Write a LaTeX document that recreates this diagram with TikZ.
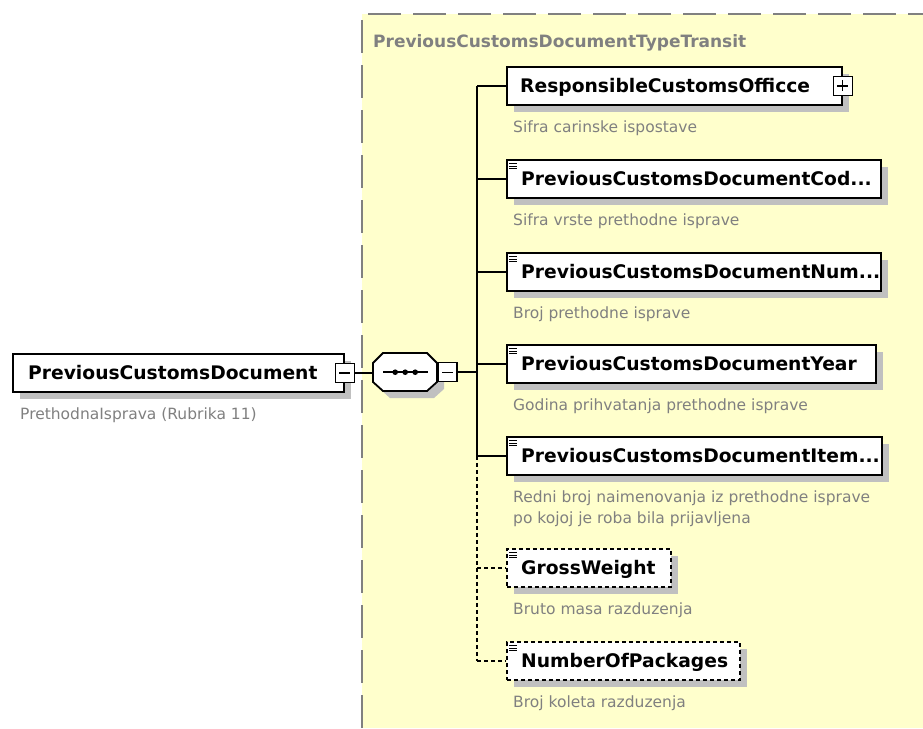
\documentclass[tikz,border=0pt]{standalone}
\usepackage{fontspec}
\setmainfont{DejaVu Sans}
\usetikzlibrary{calc,shadows}
\definecolor{bgyellow}{RGB}{255,255,204}
\definecolor{shadowgray}{RGB}{192,192,192}
\definecolor{desccol}{RGB}{128,128,128}
\definecolor{bordergray}{RGB}{128,128,128}
\newcommand\elemfont{\fontsize{18.7}{22}\selectfont\bfseries}
\newcommand\titlefont{\fontsize{17}{20}\selectfont\bfseries}
\newcommand\descfont{\fontsize{15.5}{19}\selectfont}
\tikzset{
  elem/.style={draw=black, line width=1.8pt, fill=white, inner sep=0pt,
    anchor=north west, minimum height=38pt,
    drop shadow={shadow xshift=7pt, shadow yshift=-7pt, fill=shadowgray, opacity=1}},
  optelem/.style={elem, dash pattern=on 4pt off 3pt},
  elemtext/.style={anchor=base west, inner sep=0pt, font=\elemfont, text=black},
  desc/.style={anchor=base west, inner sep=0pt, font=\descfont, text=desccol},
  conn/.style={line width=1.8pt, draw=black},
  optconn/.style={conn, dash pattern=on 4pt off 3pt},
  minusbox/.style={draw=black, line width=1.5pt, fill=white, minimum width=19pt,
    minimum height=19pt, inner sep=0pt,
    path picture={\draw[line width=1.3pt] ($(path picture bounding box.west)+(4,0)$) -- ($(path picture bounding box.east)+(-4,0)$);}},
  plusbox/.style={minusbox,
    path picture={\draw[line width=1.3pt] ($(path picture bounding box.west)+(4,0)$) -- ($(path picture bounding box.east)+(-4,0)$)
      ($(path picture bounding box.north)+(0,4)$) -- ($(path picture bounding box.south)+(0,-4)$);}},
  icon/.style={line width=1pt, draw=black}
}
\newcommand\simpleicon[1]{%
  \draw[icon] ($(#1.north west)+(3,4.5)$) -- ++(7.5,0)
              ($(#1.north west)+(3,7)$) -- ++(7.5,0)
              ($(#1.north west)+(3,9.5)$) -- ++(7.5,0);}
\begin{document}
\begin{tikzpicture}[x=1pt,y=-1pt]
\useasboundingbox (0,0) rectangle (923,728);
\fill[white] (0,0) rectangle (923,728);
% type area
\fill[bgyellow] (362,14) rectangle (923,728);
\draw[bordergray, line width=2pt, dash pattern=on 33pt off 12pt] (362,728) -- (362,14) -- (923,14);
\node[anchor=base west, inner sep=0pt, font=\titlefont, text=bordergray] (title) at (373,47) {PreviousCustomsDocumentTypeTransit};

% main element
\node[elem, minimum width=331pt] (main) at (12,353) {};
\node[elemtext] (maint) at ($(main.west)+(16,6.5)$) {PreviousCustomsDocument};
\node[desc] (maind) at ($(main.south west)+(8,27)$) {PrethodnaIsprava (Rubrika 11)};
\node[minusbox] (mm) at (main.east) {};

% sequence compositor
\node[inner sep=0pt, minimum width=64pt, minimum height=38pt, anchor=north west] (seq) at (373,353) {};
\begin{scope}[xshift=7pt, yshift=-7pt]
\fill[shadowgray] (383,353) -- (427,353) -- (437,363) -- (437,382) -- (427,391) -- (383,391) -- (373,382) -- (373,363) -- cycle;
\end{scope}
\filldraw[fill=white, draw=black, line width=1.8pt] (383,353) -- (427,353) -- (437,363) -- (437,382) -- (427,391) -- (383,391) -- (373,382) -- (373,363) -- cycle;
\draw[line width=1.8pt] ($(seq.center)+(-22,0)$) -- ($(seq.center)+(23,0)$);
\foreach \dx in {-10,0,10} \fill ($(seq.center)+(\dx,0)$) circle (2.8pt);
\node[minusbox, anchor=west] (sm) at (seq.east) {};
\draw[conn] (mm.east) -- (mm.east -| seq.west);

% children
\node[elem, minimum width=335pt] (b1) at (506,66) {};
\node[plusbox] (p1) at (b1.east) {};
\node[elemtext] (t1) at ($(b1.west)+(14,6.5)$) {ResponsibleCustomsOfficce};
\node[desc] (d1) at ($(b1.south west)+(7,27)$) {Sifra carinske ispostave};

\node[elem, minimum width=374pt] (b2) at (506,159) {};
\simpleicon{b2}
\node[elemtext] (t2) at ($(b2.west)+(15,6.5)$) {PreviousCustomsDocumentCod...};
\node[desc] (d2) at ($(b2.south west)+(7,27)$) {Sifra vrste prethodne isprave};

\node[elem, minimum width=374pt] (b3) at (506,252) {};
\simpleicon{b3}
\node[elemtext] (t3) at ($(b3.west)+(15,6.5)$) {PreviousCustomsDocumentNum...};
\node[desc] (d3) at ($(b3.south west)+(7,27)$) {Broj prethodne isprave};

\node[elem, minimum width=369pt] (b4) at (506,344) {};
\simpleicon{b4}
\node[elemtext] (t4) at ($(b4.west)+(15,6.5)$) {PreviousCustomsDocumentYear};
\node[desc] (d4) at ($(b4.south west)+(7,27)$) {Godina prihvatanja prethodne isprave};

\node[elem, minimum width=375pt] (b5) at (506,436) {};
\simpleicon{b5}
\node[elemtext] (t5) at ($(b5.west)+(15,6.5)$) {PreviousCustomsDocumentItem...};
\node[desc] (d5) at ($(b5.south west)+(7,27)$) {Redni broj naimenovanja iz prethodne isprave};
\node[desc] (d5b) at ($(b5.south west)+(7,48)$) {po kojoj je roba bila prijavljena};

\node[optelem, minimum width=164pt] (b6) at (506,548) {};
\simpleicon{b6}
\node[elemtext] (t6) at ($(b6.west)+(15,6.5)$) {GrossWeight};
\node[desc] (d6) at ($(b6.south west)+(7,27)$) {Bruto masa razduzenja};

\node[optelem, minimum width=233pt] (b7) at (506,641) {};
\simpleicon{b7}
\node[elemtext] (t7) at ($(b7.west)+(15,6.5)$) {NumberOfPackages};
\node[desc] (d7) at ($(b7.south west)+(7,27)$) {Broj koleta razduzenja};

% connectors
\coordinate (bus) at (477,372);
\draw[conn] (sm.east) -- (sm.east -| bus);
\draw[conn] (b1.west -| bus) -- (b5.west -| bus);
\draw[optconn] (b5.west -| bus) -- (b7.west -| bus);
\foreach \b in {b1,b2,b3,b4,b5} \draw[conn] (\b.west -| bus) -- (\b.west);
\foreach \b in {b6,b7} \draw[optconn] (\b.west -| bus) -- (\b.west);
\end{tikzpicture}
\end{document}
